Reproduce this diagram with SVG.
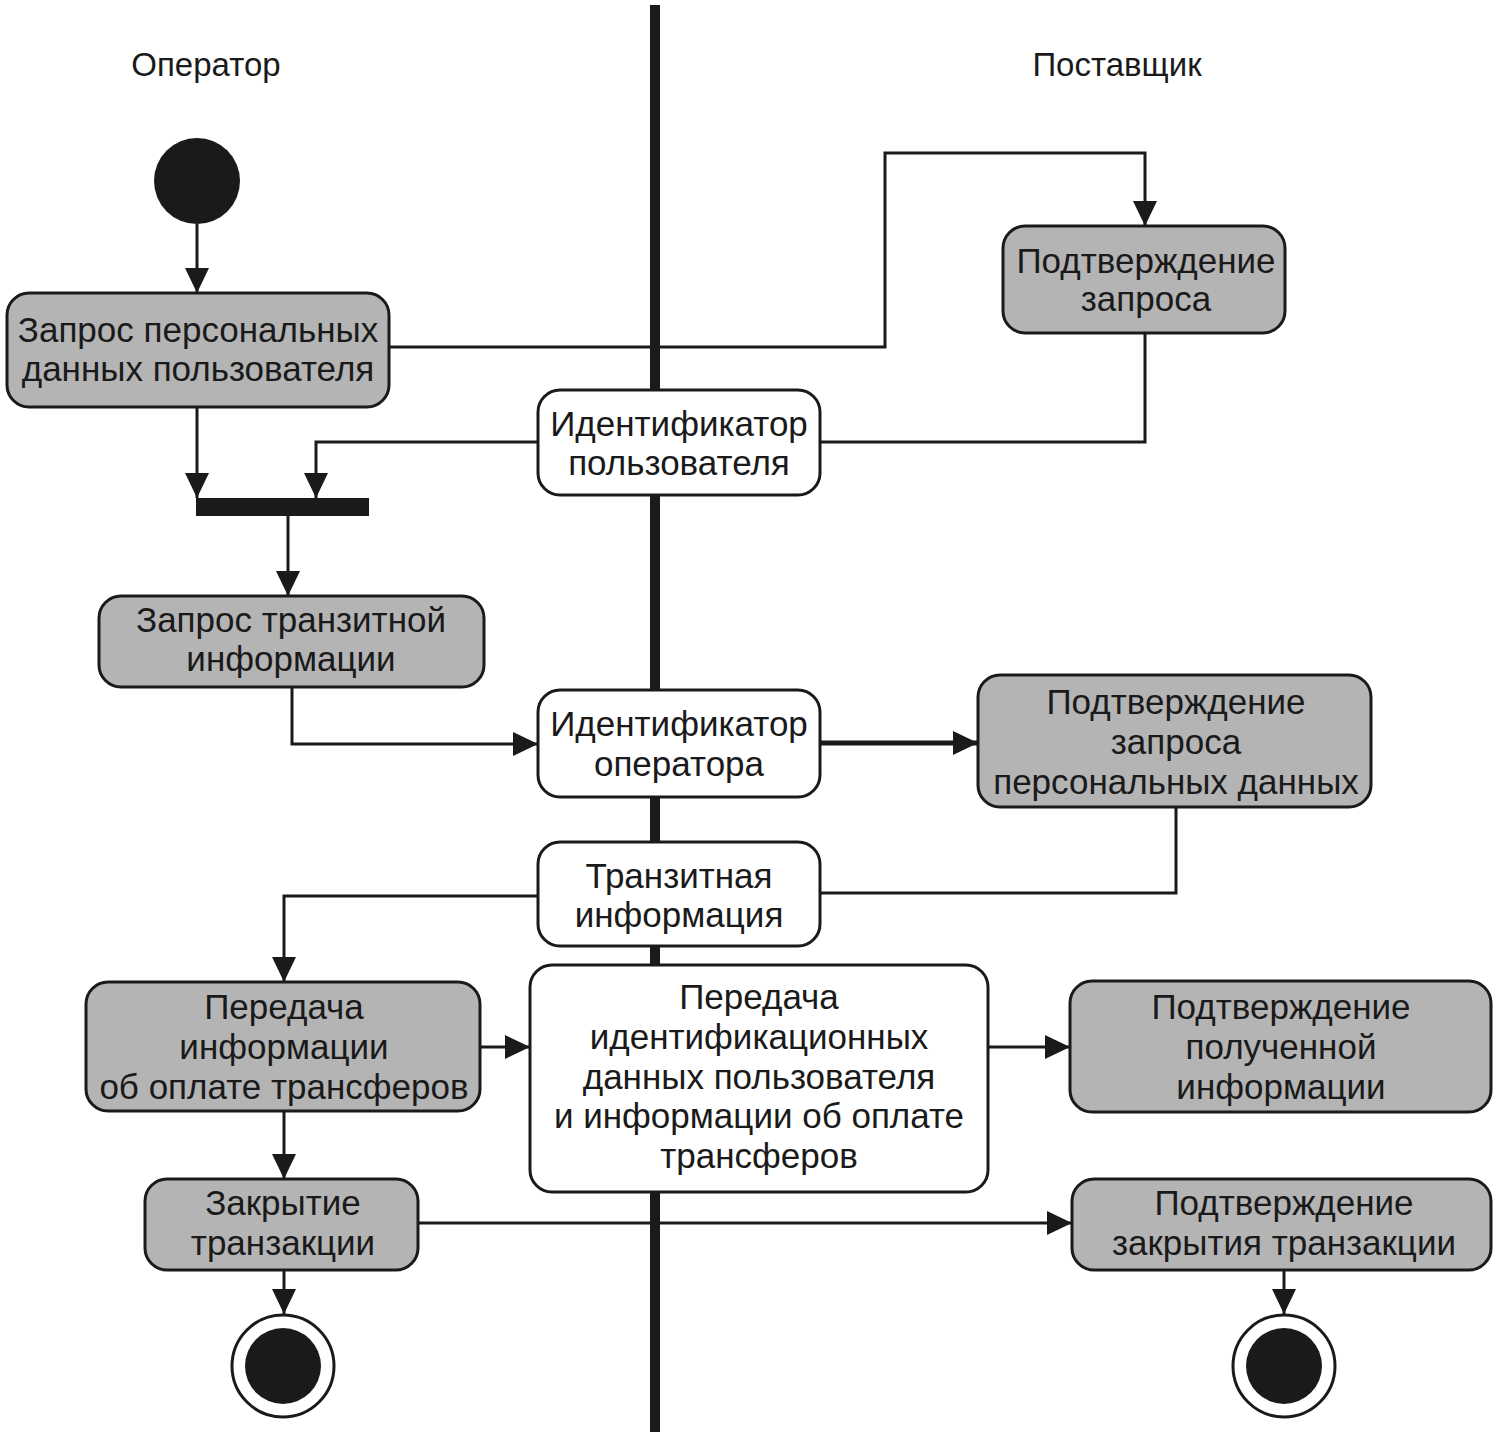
<svg xmlns="http://www.w3.org/2000/svg" width="1499" height="1437" viewBox="0 0 1499 1437">
<style>
.act{fill:#b4b4b4;stroke:#1a1a1a;stroke-width:3}
.obj{fill:#ffffff;stroke:#1a1a1a;stroke-width:3}
.t{font-family:"Liberation Sans",Arial,sans-serif;font-size:35px;fill:#1a1a1a;text-anchor:middle}
.h{font-family:"Liberation Sans",Arial,sans-serif;font-size:33px;fill:#1a1a1a;text-anchor:middle}
.c{fill:none;stroke:#1a1a1a;stroke-width:3}
.a{marker-end:url(#arr)}
</style>
<defs>
<marker id="arr" markerUnits="userSpaceOnUse" markerWidth="28" markerHeight="26" refX="25" refY="12" orient="auto">
<path d="M0,0 L25,12 L0,24 z" fill="#1a1a1a"/>
</marker>
</defs>
<rect width="1499" height="1437" fill="#ffffff"/>
<g id="swimlane">
<rect x="650" y="5" width="10" height="1427" fill="#1a1a1a"/>
<text class="h" x="206" y="76">Оператор</text>
<text class="h" x="1117" y="76">Поставщик</text>
</g>
<g id="connectors">
<path class="c a" d="M197,224 L197,293"/>
<path class="c a" d="M389,347 L885,347 L885,153 L1145,153 L1145,226"/>
<path class="c" d="M1145,333 L1145,442 L820,442"/>
<path class="c a" d="M538,442 L316,442 L316,498"/>
<path class="c a" d="M197,407 L197,498"/>
<path class="c a" d="M288,516 L288,596"/>
<path class="c a" d="M292,687 L292,744 L538,744"/>
<path class="c a" style="stroke-width:5" d="M820,743 L978,743"/>
<path class="c" d="M1176,807 L1176,893 L820,893"/>
<path class="c a" d="M538,896 L284,896 L284,982"/>
<path class="c a" d="M480,1047 L530,1047"/>
<path class="c a" d="M988,1047 L1070,1047"/>
<path class="c a" d="M284,1111 L284,1179"/>
<path class="c a" d="M418,1223 L1072,1223"/>
<path class="c a" d="M284,1270 L284,1314"/>
<path class="c a" d="M1284,1270 L1284,1314"/>
</g>
<g id="start">
<circle cx="197" cy="181" r="43" fill="#1a1a1a"/>
</g>
<g id="n1">
<rect class="act" x="7" y="293" width="382" height="114" rx="22"/>
<text class="t" x="198" y="342">Запрос персональных</text>
<text class="t" x="198" y="381">данных пользователя</text>
</g>
<g id="n2">
<rect class="act" x="1003" y="226" width="282" height="107" rx="22"/>
<text class="t" x="1146" y="273">Подтверждение</text>
<text class="t" x="1146" y="311">запроса</text>
</g>
<g id="o1">
<rect class="obj" x="538" y="390" width="282" height="105" rx="22"/>
<text class="t" x="679" y="436">Идентификатор</text>
<text class="t" x="679" y="475">пользователя</text>
</g>
<g id="fork">
<rect x="196" y="498" width="173" height="18" fill="#1a1a1a"/>
</g>
<g id="n3">
<rect class="act" x="99" y="596" width="385" height="91" rx="22"/>
<text class="t" x="291" y="632">Запрос транзитной</text>
<text class="t" x="291" y="671">информации</text>
</g>
<g id="o2">
<rect class="obj" x="538" y="690" width="282" height="107" rx="22"/>
<text class="t" x="679" y="736">Идентификатор</text>
<text class="t" x="679" y="776">оператора</text>
</g>
<g id="n4">
<rect class="act" x="978" y="675" width="393" height="132" rx="22"/>
<text class="t" x="1176" y="714">Подтверждение</text>
<text class="t" x="1176" y="754">запроса</text>
<text class="t" x="1176" y="794">персональных данных</text>
</g>
<g id="o3">
<rect class="obj" x="538" y="842" width="282" height="104" rx="22"/>
<text class="t" x="679" y="888">Транзитная</text>
<text class="t" x="679" y="927">информация</text>
</g>
<g id="n5">
<rect class="act" x="86" y="982" width="394" height="129" rx="22"/>
<text class="t" x="284" y="1019">Передача</text>
<text class="t" x="284" y="1059">информации</text>
<text class="t" x="284" y="1099">об оплате трансферов</text>
</g>
<g id="o4">
<rect class="obj" x="530" y="965" width="458" height="227" rx="22"/>
<text class="t" x="759" y="1009">Передача</text>
<text class="t" x="759" y="1049">идентификационных</text>
<text class="t" x="759" y="1089">данных пользователя</text>
<text class="t" x="759" y="1128">и информации об оплате</text>
<text class="t" x="759" y="1168">трансферов</text>
</g>
<g id="n6">
<rect class="act" x="1070" y="981" width="421" height="131" rx="22"/>
<text class="t" x="1281" y="1019">Подтверждение</text>
<text class="t" x="1281" y="1059">полученной</text>
<text class="t" x="1281" y="1099">информации</text>
</g>
<g id="n7">
<rect class="act" x="145" y="1179" width="273" height="91" rx="22"/>
<text class="t" x="283" y="1215">Закрытие</text>
<text class="t" x="283" y="1255">транзакции</text>
</g>
<g id="n8">
<rect class="act" x="1072" y="1179" width="419" height="91" rx="22"/>
<text class="t" x="1284" y="1215">Подтверждение</text>
<text class="t" x="1284" y="1255">закрытия транзакции</text>
</g>
<g id="end1">
<circle cx="283" cy="1366" r="51" fill="#ffffff" stroke="#1a1a1a" stroke-width="3"/>
<circle cx="283" cy="1366" r="38" fill="#1a1a1a"/>
</g>
<g id="end2">
<circle cx="1284" cy="1366" r="51" fill="#ffffff" stroke="#1a1a1a" stroke-width="3"/>
<circle cx="1284" cy="1366" r="38" fill="#1a1a1a"/>
</g>
</svg>
